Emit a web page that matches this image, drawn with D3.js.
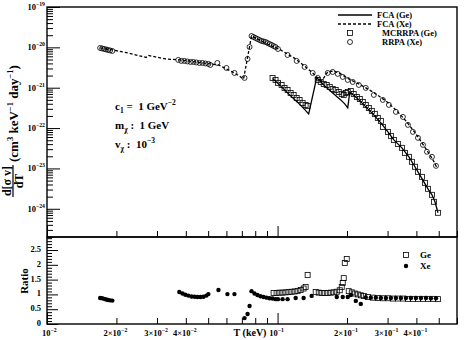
<!DOCTYPE html>
<html>
<head>
<meta charset="utf-8">
<script src="https://cdn.jsdelivr.net/npm/d3@7"></script>
<style>
body{margin:0;background:#fff}
text{font-family:"Liberation Serif","DejaVu Serif",serif;font-weight:bold;fill:#000}
</style>
</head>
<body>
<svg id="chart" width="471" height="340"></svg>
<script>
// [T (keV), d<sigma v>/dT]
const geFca = [[0.0951,1.70e-21],[0.1030,1.11e-21],[0.1116,7.03e-22],[0.1210,4.58e-22],[0.1297,3.07e-22],[0.1364,2.25e-22],
  [0.1478,1.75e-21],[0.1601,1.11e-21],[0.1734,7.43e-22],[0.1879,4.99e-22],[0.1956,3.97e-22],[0.2015,3.16e-22],
  [0.2056,7.87e-22],[0.2206,5.59e-22],[0.2389,3.55e-22],[0.2588,2.25e-22],[0.2805,1.35e-22],[0.3009,8.05e-23],
  [0.3194,5.10e-23],[0.3460,3.24e-23],[0.3712,1.94e-23],[0.3942,1.10e-23],[0.4186,6.19e-24],[0.4490,3.13e-24],
  [0.4673,2.22e-24],[0.4815,1.49e-24],[0.4962,7.96e-25]]

const xeFca = [[0.0170,9.66e-21],[0.0192,8.63e-21],[0.0225,7.27e-21],[0.0269,5.62e-21],[0.0275,6.30e-21],[0.0326,5.16e-21],
  [0.0379,4.88e-21],[0.0440,4.35e-21],[0.0511,3.88e-21],[0.0554,3.67e-21],[0.0600,2.92e-21],[0.0650,2.32e-21],
  [0.0712,1.65e-21],[0.0771,1.91e-20],[0.0887,1.28e-20],[0.1030,8.63e-21],[0.1198,5.16e-21],[0.1323,3.27e-21],
  [0.1420,2.32e-21],[0.1508,1.65e-21],[0.1554,1.47e-21],[0.1650,2.46e-21],[0.1752,2.61e-21],[0.1879,2.20e-21],
  [0.2035,1.65e-21],[0.2296,1.17e-21],[0.2588,7.87e-22],[0.2949,4.71e-22],[0.3259,2.82e-22],[0.3602,1.51e-22],
  [0.3981,7.18e-23],[0.4401,3.05e-23],[0.4720,1.63e-23],[0.4912,1.04e-23]]

const geMcrrpa = [[0.0951,1.75e-21],[0.0980,1.56e-21],[0.1004,1.32e-21],[0.1041,1.17e-21],[0.1072,9.89e-22],[0.1105,8.83e-22],
  [0.1139,7.43e-22],[0.1174,6.63e-22],[0.1210,5.59e-22],[0.1246,4.99e-22],[0.1284,4.21e-22],[0.1323,3.75e-22],[0.1350,3.55e-22],
  [0.1493,1.56e-21],[0.1538,1.39e-21],[0.1585,1.24e-21],[0.1633,1.17e-21],[0.1683,1.05e-21],[0.1734,9.34e-22],
  [0.1787,8.83e-22],[0.1842,7.87e-22],[0.1898,7.03e-22],[0.1936,6.63e-22],[0.1975,7.43e-22],[0.2015,7.87e-22],
  [0.2077,8.34e-22],[0.2139,7.03e-22],[0.2206,5.92e-22],[0.2273,5.28e-22],[0.2342,4.45e-22],[0.2413,3.75e-22],
  [0.2487,3.16e-22],[0.2563,2.67e-22],[0.2641,2.25e-22],[0.2721,1.79e-22],[0.2805,1.51e-22],
  [0.2862,1.07e-22],[0.3009,8.05e-23],[0.3100,6.41e-23],[0.3194,5.10e-23],[0.3324,4.06e-23],[0.3460,3.24e-23],
  [0.3567,2.43e-23],[0.3712,1.94e-23],[0.3823,1.46e-23],[0.3942,1.10e-23],[0.4062,8.24e-24],[0.4228,6.19e-24],
  [0.4357,4.40e-24],[0.4490,3.13e-24],[0.4673,2.22e-24],[0.4768,1.49e-24],[0.4962,7.96e-25]]

const xeRrpa = [[0.0170,9.66e-21],[0.01734,9.39e-21],[0.0177,9.12e-21],[0.01805,8.87e-21],[0.0184,8.63e-21],[0.01878,8.38e-21],[0.0192,8.15e-21],
  [0.0371,4.88e-21],[0.0382,4.61e-21],[0.0394,4.61e-21],[0.0406,4.48e-21],[0.0419,4.35e-21],[0.0431,4.35e-21],
  [0.0444,4.23e-21],[0.0458,4.11e-21],[0.0472,4.11e-21],[0.0486,3.99e-21],[0.0501,3.88e-21],[0.0511,3.67e-21],
  [0.0548,4.11e-21],[0.0600,3.09e-21],[0.0650,2.32e-21],[0.0719,1.75e-21],[0.0741,5.16e-21],[0.0756,1.02e-20],
  [0.0771,1.91e-20],[0.0786,1.81e-20],[0.0802,1.71e-20],[0.0818,1.61e-20],[0.0835,1.52e-20],[0.0852,1.44e-20],
  [0.0869,1.40e-20],[0.0887,1.36e-20],[0.0905,1.28e-20],[0.0923,1.21e-20],[0.0942,1.15e-20],[0.0961,1.08e-20],
  [0.0980,1.02e-20],[0.1004,9.12e-21],[0.1105,6.48e-21],[0.1210,4.61e-21],[0.1310,3.27e-21],[0.1420,2.32e-21],
  [0.1493,1.75e-21],[0.1650,2.32e-21],[0.1734,2.46e-21],[0.1824,2.20e-21],[0.1917,1.85e-21],[0.2015,1.56e-21],
  [0.2119,1.39e-21],[0.2250,1.17e-21],[0.2413,9.89e-22],[0.2615,6.63e-22],[0.2862,4.99e-22],[0.3039,3.75e-22],
  [0.3259,2.52e-22],[0.3496,1.89e-22],[0.3675,1.20e-22],[0.3864,8.05e-23],[0.4062,5.72e-23],[0.4271,3.84e-23],
  [0.4445,2.58e-23],[0.4673,1.94e-23],[0.4864,1.16e-23]]

// [T (keV), ratio]
const geRatio = [[0.0961,1.05],[0.0990,1.05],[0.1020,1.06],[0.1051,1.06],[0.1083,1.07],[0.1116,1.08],[0.1150,1.09],
  [0.1186,1.10],[0.1222,1.12],[0.1259,1.15],[0.1297,1.20],[0.1323,1.25],[0.1350,1.66],
  [0.1463,1.08],[0.1508,1.06],[0.1554,1.05],[0.1601,1.05],[0.1650,1.05],[0.1700,1.06],[0.1752,1.07],[0.1806,1.09],
  [0.1861,1.14],[0.1898,1.25],[0.1917,1.39],[0.1936,1.55],[0.1956,2.06],[0.1995,2.20],
  [0.2035,1.11],[0.2098,1.07],[0.2162,1.03],[0.2228,1.00],[0.2296,0.97],[0.2365,0.95],[0.2462,0.91],[0.2588,0.89],
  [0.2721,0.88],[0.2862,0.87],[0.3009,0.87],[0.3162,0.86],[0.3324,0.86],[0.3496,0.86],[0.3675,0.85],[0.3864,0.85],
  [0.4062,0.85],[0.4271,0.85],[0.4490,0.85],[0.4720,0.85],[0.4962,0.84]]

const xeRatio = [[0.0170,0.88],[0.01734,0.87],[0.0177,0.85],[0.01805,0.83],[0.0184,0.81],[0.01878,0.80],[0.0192,0.79],
  [0.0375,1.08],[0.0387,1.03],[0.0398,0.99],[0.0410,0.96],[0.0423,0.93],[0.0436,0.92],[0.0449,0.91],[0.0463,0.91],
  [0.0477,0.92],[0.0491,0.96],[0.0501,1.01],[0.0554,1.15],[0.0606,1.01],[0.0650,1.01],[0.0719,0.20],[0.0741,0.34],
  [0.0756,0.61],[0.0771,1.11],[0.0794,1.03],[0.0818,0.98],[0.0843,0.94],[0.0869,0.91],[0.0896,0.89],[0.0923,0.87],
  [0.0951,0.86],[0.0980,0.84],[0.1004,0.84],[0.1051,0.84],[0.1105,0.84],[0.1198,0.88],[0.1297,0.88],[0.1405,0.95],
  [0.1806,0.91],[0.1917,0.91],[0.2015,0.91],[0.2077,0.98],[0.2184,0.78],[0.2296,0.68],[0.2413,0.90],[0.2537,0.89],
  [0.2668,0.89],[0.2805,0.88],[0.2949,0.88],[0.3100,0.88],[0.3259,0.88],[0.3426,0.88],[0.3602,0.88],[0.3787,0.88],
  [0.3981,0.88],[0.4186,0.88],[0.4401,0.88],[0.4626,0.87],[0.4864,0.87]]

const yTopExp = [-19,-20,-21,-22,-23,-24]
const xLabels = [[0.01,"10","−2"],[0.02,"2×10","−2"],[0.03,"3×10","−2"],[0.04,"4×10","−2"],
  [0.1,"10","−1"],[0.2,"2×10","−1"],[0.3,"3×10","−1"],[0.4,"4×10","−1"]]
const ratioLabels = [0,0.5,1,1.5,2,2.5]
const legendTop = ["FCA (Ge)","FCA (Xe)","MCRRPA (Ge)","RRPA (Xe)"]

const svg = d3.select("#chart")
svg.append("rect").attr("width",471).attr("height",340).attr("fill","#fff")

const L = 47, R = 457, T1 = 7, B1 = 237, B2 = 324
let x = d3.scaleLog().domain([0.01,0.6]).range([L,R])
let y = d3.scaleLog().domain([2e-25,1e-19]).range([B1,T1])
let yr = d3.scaleLinear().domain([0,2.94]).range([B2,B1])

// tick values for the log axes
let xMajor = [0.01,0.1]
let xMinor = []
for (let k=2;k<=9;k++) xMinor.push(k*0.01)
for (let k=2;k<=6;k++) xMinor.push(k*0.1)
let yMajor = yTopExp.map(e => Math.pow(10,e))
let yMinor = []
for (let e=-25;e<=-20;e++) for (let k=2;k<=9;k++) {
    let v = k*Math.pow(10,e)
    if (v>=2e-25 && v<=1e-19) yMinor.push(v)
}
let rMinor = d3.range(0,2.95,0.1).filter(v => Math.abs(v*2-Math.round(v*2))>1e-6)

function ticks(g, axis) {
    g.call(axis)
    g.select(".domain").remove()
    g.selectAll("line").attr("stroke","#000").attr("stroke-width",1)
    g.selectAll("text").remove()
}

// x ticks (pointing up) on both panels
for (let yy of [B1,B2]) {
    svg.append("g").attr("transform",`translate(0,${yy})`)
        .call(ticks, d3.axisBottom(x).tickValues(xMajor).tickSizeInner(-11))
    svg.append("g").attr("transform",`translate(0,${yy})`)
        .call(ticks, d3.axisBottom(x).tickValues(xMinor).tickSizeInner(-6))
}
// y ticks top
svg.append("g").attr("transform",`translate(${L},0)`)
    .call(ticks, d3.axisLeft(y).tickValues(yMajor).tickSizeInner(-13))
svg.append("g").attr("transform",`translate(${L},0)`)
    .call(ticks, d3.axisLeft(y).tickValues(yMinor).tickSizeInner(-6))
// y ticks ratio
svg.append("g").attr("transform",`translate(${L},0)`)
    .call(ticks, d3.axisLeft(yr).tickValues(ratioLabels).tickSizeInner(-11))
svg.append("g").attr("transform",`translate(${L},0)`)
    .call(ticks, d3.axisLeft(yr).tickValues(rMinor).tickSizeInner(-5))

// frames
svg.append("rect").attr("x",L).attr("y",T1).attr("width",R-L).attr("height",B1-T1)
    .attr("fill","none").attr("stroke","#000").attr("stroke-width",1.4)
svg.append("rect").attr("x",L).attr("y",B1).attr("width",R-L).attr("height",B2-B1)
    .attr("fill","none").attr("stroke","#000").attr("stroke-width",1.4)

function powLabel(base, exp, px, py, anchor, fs) {
    let t = svg.append("text").attr("x",px).attr("y",py).attr("text-anchor",anchor).style("font-size",fs+"px")
    t.append("tspan").text(base)
    t.append("tspan").attr("dy",-4).style("font-size",(fs*0.68)+"px").text(exp)
    return t
}

// tick labels
yTopExp.forEach(e => powLabel("10","−"+(-e),45,y(Math.pow(10,e))+3,"end",8.5))
ratioLabels.forEach(v => svg.append("text").attr("x",41).attr("y",yr(v)+2)
    .attr("text-anchor","end").style("font-size","8.5px").text(v))
xLabels.forEach((d,i) => powLabel(d[1],d[2],i==0 ? 42 : x(d[0])-1,336,i==0 ? "start" : "middle",8.5))

svg.append("text").attr("x",250).attr("y",336).attr("text-anchor","middle")
    .style("font-size","10px").text("T (keV)")

// y titles
let yl = svg.append("g").attr("transform","rotate(-90)")
yl.append("text").attr("x",-181).attr("y",11).attr("text-anchor","middle").style("font-size","12px").text("d[σ v]")
yl.append("line").attr("x1",-197).attr("x2",-165).attr("y1",13).attr("y2",13).attr("stroke","#000").attr("stroke-width",1.2)
yl.append("text").attr("x",-181).attr("y",23).attr("text-anchor","middle").style("font-size","12px").text("dT")
let un = yl.append("text").attr("x",-162).attr("y",18).style("font-size","13px")
un.append("tspan").text("(cm")
un.append("tspan").attr("dy",-5).style("font-size","8.5px").text("3")
un.append("tspan").attr("dy",5).text(" keV")
un.append("tspan").attr("dy",-5).style("font-size","8.5px").text("−1")
un.append("tspan").attr("dy",5).text(" day")
un.append("tspan").attr("dy",-5).style("font-size","8.5px").text("−1")
un.append("tspan").attr("dy",5).text(")")
yl.append("text").attr("x",-281).attr("y",28).attr("text-anchor","middle").style("font-size","11px").text("Ratio")

// lines
let line = d3.line().x(d => x(d[0])).y(d => y(d[1]))
svg.append("path").datum(geFca).attr("d",line).attr("fill","none").attr("stroke","#000").attr("stroke-width",1.3)
svg.append("path").datum(xeFca).attr("d",line).attr("fill","none").attr("stroke","#000")
    .attr("stroke-width",1.3).attr("stroke-dasharray","3,2")

// markers
svg.append("g").selectAll("rect").data(geMcrrpa).enter().append("rect")
    .attr("x",d => x(d[0])-2.5).attr("y",d => y(d[1])-2.5).attr("width",5).attr("height",5)
    .attr("fill","none").attr("stroke","#000").attr("stroke-width",0.8)
svg.append("g").selectAll("circle").data(xeRrpa).enter().append("circle")
    .attr("cx",d => x(d[0])).attr("cy",d => y(d[1])).attr("r",2.5)
    .attr("fill","none").attr("stroke","#000").attr("stroke-width",0.8)

svg.append("g").selectAll("rect").data(geRatio).enter().append("rect")
    .attr("x",d => x(d[0])-2.5).attr("y",d => yr(d[1])-2.5).attr("width",5).attr("height",5)
    .attr("fill","none").attr("stroke","#000").attr("stroke-width",0.8)
svg.append("g").selectAll("circle").data(xeRatio).enter().append("circle")
    .attr("cx",d => x(d[0])).attr("cy",d => yr(d[1])).attr("r",2.2).attr("fill","#000")

// annotations
function annot(py, main, sub, rest, sup) {
    let t = svg.append("text").attr("x",115).attr("y",py).style("font-size","11px")
    t.append("tspan").text(main)
    t.append("tspan").attr("dy",3).style("font-size","7.5px").text(sub)
    t.append("tspan").attr("dy",-3).text(rest)
    if (sup) t.append("tspan").attr("dy",-5).style("font-size","7.5px").text(sup)
}
annot(110,"c","1","\u00a0=\u00a0 1 GeV","−2")
annot(129,"m","χ","\u00a0:\u00a0 1 GeV",null)
annot(148,"v","χ","\u00a0:\u00a0 10","−3")

// legend top
let ly = [15,24,33,42]
svg.append("line").attr("x1",338).attr("x2",372).attr("y1",ly[0]).attr("y2",ly[0]).attr("stroke","#000").attr("stroke-width",1.3)
svg.append("line").attr("x1",338).attr("x2",372).attr("y1",ly[1]).attr("y2",ly[1]).attr("stroke","#000")
    .attr("stroke-width",1.3).attr("stroke-dasharray","3,2")
svg.append("rect").attr("x",347.5).attr("y",ly[2]-2.5).attr("width",5).attr("height",5)
    .attr("fill","none").attr("stroke","#000").attr("stroke-width",0.8)
svg.append("circle").attr("cx",350).attr("cy",ly[3]).attr("r",2.5)
    .attr("fill","none").attr("stroke","#000").attr("stroke-width",0.8)
legendTop.forEach((s,i) => svg.append("text").attr("x",i<2?377:382).attr("y",ly[i]+3)
    .style("font-size","8.5px").text(s))

// legend ratio
svg.append("rect").attr("x",403.5).attr("y",252.5).attr("width",5).attr("height",5)
    .attr("fill","none").attr("stroke","#000").attr("stroke-width",0.8)
svg.append("circle").attr("cx",406).attr("cy",266).attr("r",2.2).attr("fill","#000")
svg.append("text").attr("x",420).attr("y",258).style("font-size","9px").text("Ge")
svg.append("text").attr("x",420).attr("y",269).style("font-size","9px").text("Xe")
</script>
</body>
</html>
